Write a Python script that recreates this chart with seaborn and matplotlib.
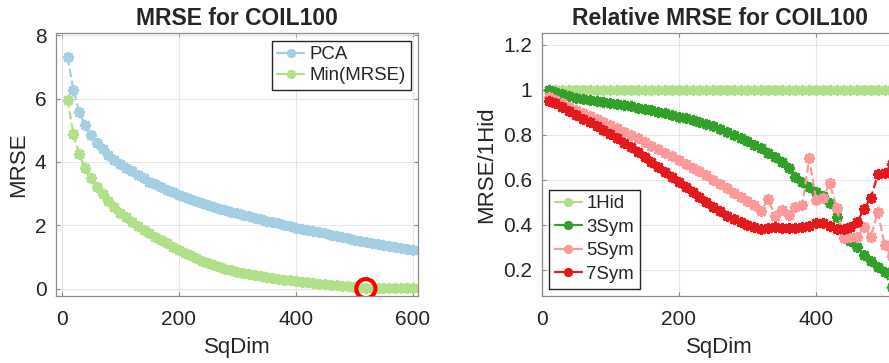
import matplotlib
matplotlib.use("Agg")
import matplotlib.pyplot as plt
from matplotlib.lines import Line2D
import seaborn as sns
import numpy as np
import pandas as pd

# ---------------- data ----------------
sqdim_left = list(range(10, 601, 10))
pca = [7.30, 6.27, 5.58, 5.16, 4.85, 4.59, 4.40, 4.22, 4.06, 3.95,
       3.82, 3.70, 3.58, 3.48, 3.38, 3.29, 3.20, 3.12, 3.04, 2.96,
       2.89, 2.82, 2.76, 2.69, 2.63, 2.57, 2.52, 2.47, 2.42, 2.38,
       2.33, 2.28, 2.24, 2.19, 2.15, 2.11, 2.06, 2.02, 1.98, 1.93,
       1.89, 1.85, 1.82, 1.78, 1.75, 1.71, 1.67, 1.64, 1.60, 1.55,
       1.52, 1.48, 1.45, 1.42, 1.38, 1.35, 1.31, 1.28, 1.25, 1.22]
min_mrse = [5.97, 4.88, 4.25, 3.80, 3.48, 3.20, 2.98, 2.76, 2.57, 2.40,
            2.25, 2.11, 1.98, 1.86, 1.75, 1.64, 1.54, 1.44, 1.33, 1.22,
            1.13, 1.05, 0.96, 0.88, 0.81, 0.75, 0.69, 0.63, 0.58, 0.54,
            0.50, 0.47, 0.43, 0.40, 0.37, 0.34, 0.31, 0.28, 0.26, 0.24,
            0.22, 0.20, 0.18, 0.16, 0.15, 0.13, 0.11, 0.10, 0.08, 0.065,
            0.05, 0.03, 0.03, 0.02, 0.02, 0.02, 0.02, 0.02, 0.02, 0.02]
best_dim = [520]
best_val = [0.0]

sqdim_right = list(range(10, 521, 10))
hid1 = [1.0] * len(sqdim_right)
sym3 = [1.000, 0.990, 0.980, 0.972, 0.965, 0.960, 0.955, 0.950, 0.947, 0.943,
        0.938, 0.933, 0.928, 0.922, 0.916, 0.910, 0.903, 0.896, 0.889, 0.882,
        0.874, 0.866, 0.857, 0.848, 0.838, 0.827, 0.815, 0.802, 0.788, 0.773,
        0.757, 0.740, 0.722, 0.703, 0.682, 0.655, 0.615, 0.593, 0.570, 0.548,
        0.530, 0.496, 0.437, 0.370, 0.330, 0.300, 0.265, 0.240, 0.215, 0.190,
        0.125, 0.090]
sym5 = [0.970, 0.955, 0.940, 0.925, 0.910, 0.897, 0.884, 0.870, 0.857, 0.844,
        0.830, 0.815, 0.800, 0.785, 0.770, 0.753, 0.737, 0.720, 0.705, 0.689,
        0.672, 0.655, 0.638, 0.620, 0.600, 0.582, 0.562, 0.543, 0.525, 0.505,
        0.490, 0.462, 0.515, 0.440, 0.467, 0.445, 0.480, 0.490, 0.696, 0.512,
        0.520, 0.585, 0.477, 0.341, 0.348, 0.348, 0.393, 0.348, 0.459, 0.310,
        0.260, 0.240]
sym7 = [0.952, 0.940, 0.925, 0.905, 0.890, 0.872, 0.856, 0.838, 0.820, 0.805,
        0.786, 0.766, 0.745, 0.724, 0.702, 0.680, 0.658, 0.635, 0.613, 0.590,
        0.570, 0.548, 0.525, 0.500, 0.480, 0.460, 0.440, 0.425, 0.412, 0.400,
        0.390, 0.380, 0.388, 0.390, 0.385, 0.388, 0.385, 0.390, 0.395, 0.410,
        0.410, 0.395, 0.380, 0.380, 0.390, 0.415, 0.470, 0.520, 0.625, 0.630,
        0.670, 0.700]

left_x_ticks = [0, 200, 400, 600]
left_y_ticks = [0, 2, 4, 6, 8]
right_x_ticks = [0, 200, 400]
right_y_ticks = [0.2, 0.4, 0.6, 0.8, 1.0, 1.2]
right_y_ticklabels = ["0.2", "0.4", "0.6", "0.8", "1", "1.2"]

# ---------------- style ----------------
sns.set_theme(style="white")
plt.rcParams["font.family"] = ["Liberation Sans", "DejaVu Sans"]
pal = sns.color_palette("Paired")
c_pca, c_min = pal[0], pal[2]
c_1hid, c_3sym, c_5sym, c_7sym = pal[2], pal[3], pal[4], pal[5]

MK = (8, 2, 0)
MS = 8
MEW = 2.0
LW = 1.6

fig = plt.figure(figsize=(8.89, 3.63), dpi=100)
axL = fig.add_axes([56.3 / 889, (363 - 296) / 363, 362 / 889, 262.7 / 363])
axR = fig.add_axes([541.7 / 889, (363 - 296) / 363, 356 / 889, 262.7 / 363])


def draw(ax, x, y, color):
    df = pd.DataFrame({"x": x, "y": y})
    sns.lineplot(data=df, x="x", y="y", ax=ax, color=color, linestyle="--",
                 linewidth=LW, marker=MK, markersize=MS, markeredgewidth=MEW,
                 markeredgecolor=color, markerfacecolor=color, legend=False)


def handle(color):
    return Line2D([], [], color=color, linestyle="-", linewidth=LW, marker=MK,
                  markersize=6.5, markeredgewidth=1.8, markeredgecolor=color)


def style_axes(ax):
    ax.grid(True, color="#e6e6e6", linewidth=0.8)
    ax.set_axisbelow(True)
    for s in ax.spines.values():
        s.set_color("#8c8c8c")
        s.set_linewidth(0.9)
    ax.tick_params(direction="in", length=3, width=0.8, color="#8c8c8c",
                   labelsize=15, labelcolor="#262626", top=True, right=True,
                   bottom=True, left=True)
    ax.tick_params(axis="x", pad=10)
    ax.tick_params(axis="y", pad=7)


LEG = dict(fontsize=13.4, frameon=True, fancybox=False, edgecolor="#262626",
           framealpha=1, handlelength=1.45, handletextpad=0.25, borderpad=0.3,
           borderaxespad=0.4)

# left panel
draw(axL, sqdim_left, pca, c_pca)
draw(axL, sqdim_left, min_mrse, c_min)
sns.scatterplot(x=best_dim, y=best_val, ax=axL, s=190, facecolor="none",
                edgecolor="#ff0000", linewidth=3.0, zorder=5, legend=False)
axL.set_xlim(-9.2, 609.6)
axL.set_ylim(-0.23, 8.06)
axL.set_xticks(left_x_ticks)
axL.set_yticks(left_y_ticks)
style_axes(axL)
axL.set_title("MRSE for COIL100", fontsize=16.5, fontweight="bold", pad=6)
axL.set_xlabel("SqDim", fontsize=16, color="#262626", labelpad=6)
axL.set_ylabel("MRSE", fontsize=16, color="#262626")
axL.legend([handle(c_pca), handle(c_min)], ["PCA", "Min(MRSE)"],
           loc="upper right", labelspacing=0.2, **LEG)

# right panel
draw(axR, sqdim_right, hid1, c_1hid)
draw(axR, sqdim_right, sym3, c_3sym)
draw(axR, sqdim_right, sym5, c_5sym)
draw(axR, sqdim_right, sym7, c_7sym)
axR.set_xlim(0, 519)
axR.set_ylim(0.084, 1.252)
axR.set_xticks(right_x_ticks)
axR.set_yticks(right_y_ticks)
axR.set_yticklabels(right_y_ticklabels)
style_axes(axR)
axR.set_title("Relative MRSE for COIL100", fontsize=16.5, fontweight="bold", pad=6)
axR.set_xlabel("SqDim", fontsize=16, color="#262626", labelpad=6)
axR.set_ylabel("MRSE/1Hid", fontsize=16, color="#262626")
axR.legend([handle(c_1hid), handle(c_3sym), handle(c_5sym), handle(c_7sym)],
           ["1Hid", "3Sym", "5Sym", "7Sym"],
           loc="lower left", labelspacing=0.35, **LEG)

fig.savefig("out.png", dpi=100)
